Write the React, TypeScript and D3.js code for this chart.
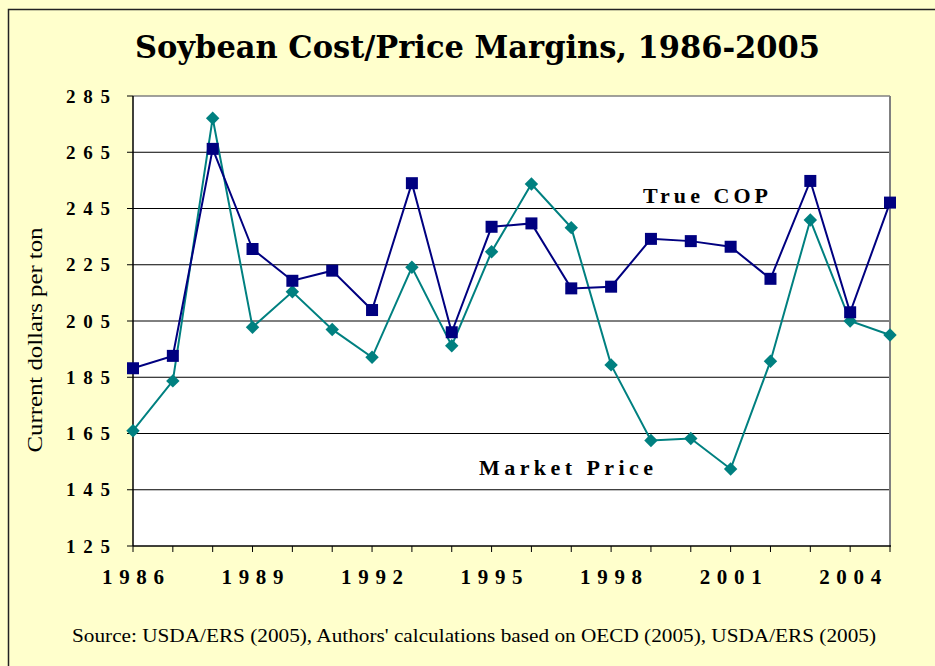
import React from "react";
import * as d3 from "d3";

const years = [1986, 1987, 1988, 1989, 1990, 1991, 1992, 1993, 1994, 1995, 1996, 1997, 1998, 1999, 2000, 2001, 2002, 2003, 2004, 2005];
const trueCOP = [188.2, 192.6, 266.2, 230.6, 219.3, 222.9, 208.9, 254.0, 201.0, 238.5, 239.7, 216.6, 217.2, 234.2, 233.4, 231.4, 220.0, 254.8, 208.1, 247.1];
const marketPrice = [166.0, 183.7, 277.1, 202.8, 215.4, 202.0, 192.1, 224.1, 196.2, 229.6, 253.7, 238.2, 189.4, 162.5, 163.2, 152.4, 190.7, 240.9, 205.0, 200.0];
const yTicks = [125, 145, 165, 185, 205, 225, 245, 265, 285];
const xLabelYears = [1986, 1989, 1992, 1995, 1998, 2001, 2004];

const W = 935;
const H = 666;
const plot = { left: 133, right: 890, top: 96, bottom: 546 };
const serif = { fontFamily: '"Liberation Serif"' };
const titleFont = { fontFamily: '"DejaVu Serif Condensed"' };

export default function App() {
  const x = d3.scaleLinear().domain([1986, 2005]).range([plot.left, plot.right]);
  const y = d3.scaleLinear().domain([125, 285]).range([plot.bottom, plot.top]);
  const line = d3.line<number>().x((_, i) => x(years[i])).y((d) => y(d));

  const navy = "#000080";
  const teal = "#008080";
  const diamond = d3.symbol().type(d3.symbolDiamond2).size(115)() || "";

  return (
    <svg width={W} height={H} style={{ position: "absolute", left: 0, top: 0 }}>
      <rect x={0} y={0} width={W} height={H} fill="#ffffcc" />
      <path d={`M8.5,${H} L8.5,9.5 L${W},9.5`} fill="none" stroke="#222" strokeWidth={1.5} />

      <text
        x={135}
        y={58}
        style={titleFont}
        fontWeight="bold"
        fontSize={31}
        textLength={685}
        lengthAdjust="spacingAndGlyphs"
      >
        Soybean Cost/Price Margins, 1986-2005
      </text>

      <rect x={plot.left} y={plot.top} width={plot.right - plot.left} height={plot.bottom - plot.top} fill="#ffffff" />

      {yTicks.slice(1, -1).map((t) => (
        <line key={t} x1={plot.left} x2={plot.right} y1={y(t)} y2={y(t)} stroke="#000" strokeWidth={1} />
      ))}
      <line x1={plot.left} x2={plot.right} y1={plot.top} y2={plot.top} stroke="#808080" strokeWidth={1.5} />
      <line x1={plot.right} x2={plot.right} y1={plot.top} y2={plot.bottom} stroke="#808080" strokeWidth={2} />
      <line x1={plot.left} x2={plot.right + 1} y1={plot.bottom} y2={plot.bottom} stroke="#000" strokeWidth={1.5} />
      <line x1={plot.left} x2={plot.left} y1={plot.top} y2={plot.bottom} stroke="#000" strokeWidth={1.5} />

      {yTicks.map((t) => (
        <g key={t}>
          <line x1={plot.left - 6} x2={plot.left} y1={y(t)} y2={y(t)} stroke="#000" strokeWidth={1} />
          <text
            x={66}
            y={y(t) + 6.5}
            style={serif}
            fontWeight="bold"
            fontSize={19}
            textLength={44}
            lengthAdjust="spacing"
          >
            {t}
          </text>
        </g>
      ))}

      {years.map((yr) => (
        <line key={yr} x1={x(yr)} x2={x(yr)} y1={plot.bottom} y2={plot.bottom + 6} stroke="#000" strokeWidth={1} />
      ))}
      {xLabelYears.map((yr) => (
        <text
          key={yr}
          x={x(yr) - 31}
          y={584}
          style={serif}
          fontWeight="bold"
          fontSize={21}
          textLength={62}
          lengthAdjust="spacing"
        >
          {yr}
        </text>
      ))}

      <text
        transform={`translate(42,340) rotate(-90)`}
        textAnchor="middle"
        style={serif}
        fontSize={20}
        textLength={225}
        lengthAdjust="spacingAndGlyphs"
      >
        Current dollars per ton
      </text>

      <path d={line(marketPrice) || ""} fill="none" stroke={teal} strokeWidth={2} />
      <path d={line(trueCOP) || ""} fill="none" stroke={navy} strokeWidth={2} />

      {marketPrice.map((v, i) => (
        <path key={"m" + i} d={diamond} transform={`translate(${x(years[i])},${y(v)})`} fill={teal} />
      ))}
      {trueCOP.map((v, i) => (
        <rect key={"c" + i} x={x(years[i]) - 6} y={y(v) - 6} width={12} height={12} fill={navy} />
      ))}

      <text
        x={643}
        y={203}
        style={serif}
        fontWeight="bold"
        fontSize={22}
        textLength={125}
        lengthAdjust="spacing"
      >
        True COP
      </text>
      <text
        x={479}
        y={475}
        style={serif}
        fontWeight="bold"
        fontSize={22}
        textLength={174}
        lengthAdjust="spacing"
      >
        Market Price
      </text>

      <text
        x={72}
        y={642}
        style={serif}
        fontSize={18}
        textLength={804}
        lengthAdjust="spacingAndGlyphs"
      >
        Source: USDA/ERS (2005), Authors' calculations based on OECD (2005), USDA/ERS (2005)
      </text>
    </svg>
  );
}
